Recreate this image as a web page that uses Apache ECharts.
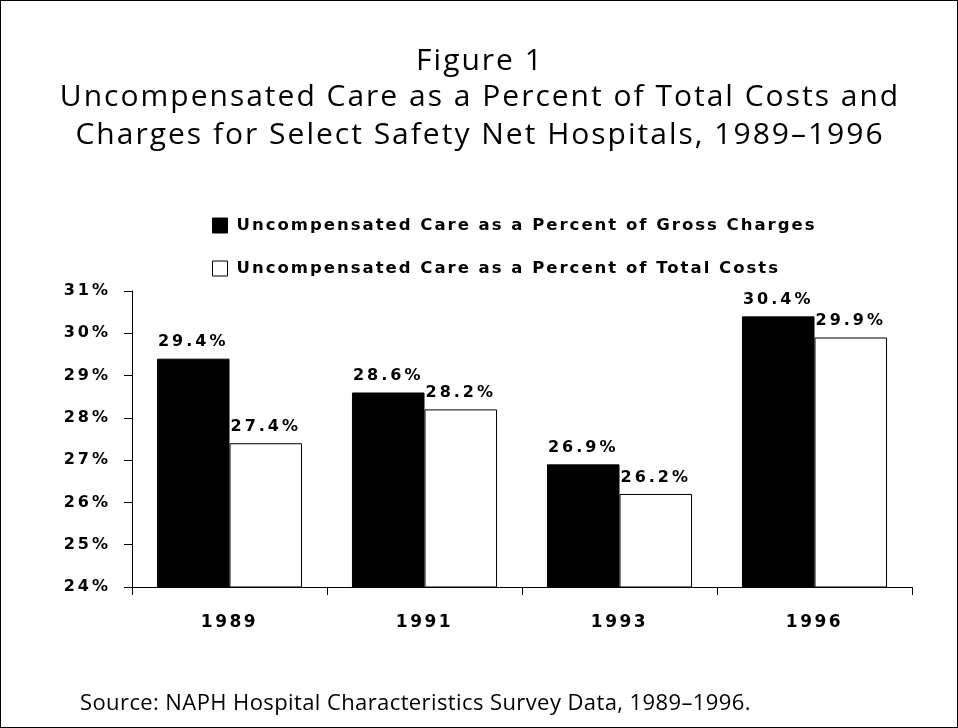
<!DOCTYPE html>
<html><head><meta charset="utf-8">
<script src="https://cdn.jsdelivr.net/npm/echarts@6/dist/echarts.min.js"></script>
<style>
html,body{margin:0;padding:0;background:#fff;}
#c{width:956px;height:726px;border:1px solid #000;}
</style></head>
<body><div id="c"></div>
<script>
const categories = ['1989', '1991', '1993', '1996'];
const grossCharges = [29.4, 28.6, 26.9, 30.4];
const totalCosts = [27.4, 28.2, 26.2, 29.9];
const seriesNames = ['Uncompensated Care as a Percent of Gross Charges', 'Uncompensated Care as a Percent of Total Costs'];
const titleLines = ['Figure 1', 'Uncompensated Care as a Percent of Total Costs and', 'Charges for Select Safety Net Hospitals, 1989\u20131996'];
const sourceText = 'Source: NAPH Hospital Characteristics Survey Data, 1989\u20131996.';

// Letter spacing for the spaced texts (canvas letterSpacing, keyed by font size)
(function () {
  const proto = CanvasRenderingContext2D.prototype;
  const desc = Object.getOwnPropertyDescriptor(proto, 'font');
  if (!desc || !('letterSpacing' in proto)) return;
  const spacing = {30: 2, 22: 0.4, 16.5: 2, 16: 3, 17: 2.5};
  Object.defineProperty(proto, 'font', {
    configurable: true,
    get() { return desc.get.call(this); },
    set(v) {
      desc.set.call(this, v);
      let ls = '0px';
      const m = v.match(/(\d+(?:\.\d+)?)px/);
      if (m && spacing[+m[1]] !== undefined) ls = spacing[+m[1]] + 'px';
      this.letterSpacing = ls;
    }
  });
})();

const chart = echarts.init(document.getElementById('c'));
const bold = {fontFamily: 'DejaVu Sans', fontWeight: 'bold', color: '#000'};
const labelCfg = {show: true, position: 'top', distance: 7, fontFamily: 'DejaVu Sans', fontWeight: 'bold', fontSize: 16, color: '#000', formatter: p => p.value.toFixed(1) + '%'};
const titleY = [60, 96, 134.5];
chart.setOption({
  animation: false,
  legend: {
    orient: 'vertical', left: 206, top: 210, itemGap: 24, itemWidth: 15, itemHeight: 15,
    icon: 'rect',
    textStyle: Object.assign({fontSize: 16.5, padding: [0, 0, 0, 4]}, bold),
    data: [
      {name: seriesNames[0], itemStyle: {color: '#000', borderColor: '#000', borderWidth: 1}},
      {name: seriesNames[1], itemStyle: {color: '#fff', borderColor: '#000', borderWidth: 1}}
    ]
  },
  grid: {left: 131, right: 45, top: 290, bottom: 140},
  xAxis: {
    type: 'category', data: categories,
    axisLine: {lineStyle: {color: '#000', width: 1}},
    axisTick: {show: true, length: 8, inside: false, lineStyle: {color: '#000'}},
    axisLabel: Object.assign({fontSize: 17, margin: 26}, bold)
  },
  yAxis: {
    type: 'value', min: 24, max: 31, interval: 1,
    axisLine: {show: true, lineStyle: {color: '#000', width: 1}},
    axisTick: {show: true, length: 8, lineStyle: {color: '#000'}},
    splitLine: {show: false},
    axisLabel: Object.assign({fontSize: 16, margin: 21, formatter: '{value}%'}, bold)
  },
  series: [
    {name: seriesNames[0], type: 'bar', data: grossCharges, barGap: '0%', barCategoryGap: '25.6%',
     itemStyle: {color: '#000', borderColor: '#000', borderWidth: 1}, label: labelCfg},
    {name: seriesNames[1], type: 'bar', data: totalCosts,
     itemStyle: {color: '#fff', borderColor: '#000', borderWidth: 1}, label: labelCfg}
  ],
  graphic: titleLines.map((t, i) => ({
    type: 'text', x: 479, y: titleY[i],
    style: {text: t, fontFamily: 'Open Sans', fontSize: 30, fill: '#000', textAlign: 'center', textVerticalAlign: 'middle', verticalAlign: 'middle'}
  })).concat([{
    type: 'text', x: 79, y: 703,
    style: {text: sourceText, fontFamily: 'Open Sans', fontSize: 22, fill: '#000', textVerticalAlign: 'middle', verticalAlign: 'middle'}
  }])
});
</script></body></html>
